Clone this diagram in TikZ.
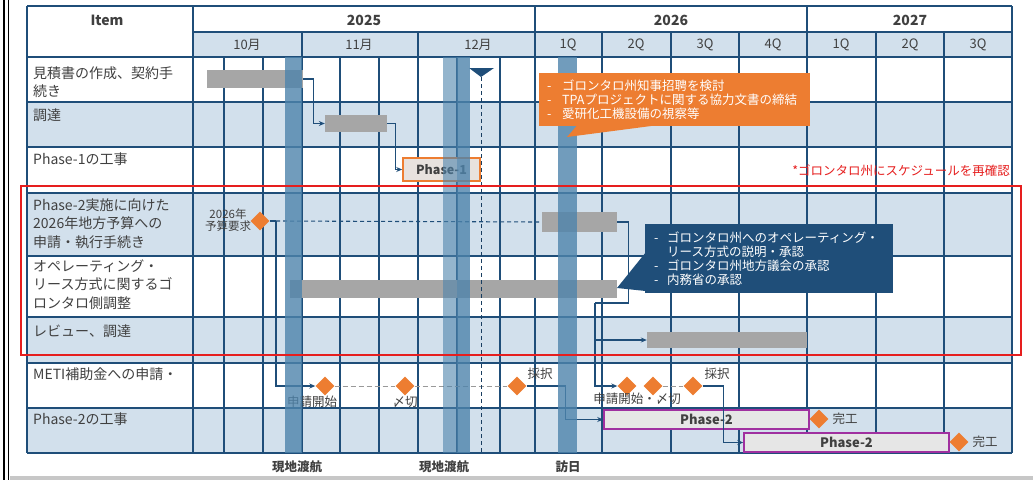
\documentclass[tikz,border=0pt]{standalone}
\usepackage{fontspec}
\setmainfont{Noto Sans CJK JP}
\usetikzlibrary{shapes.geometric,arrows.meta}
\definecolor{gridc}{RGB}{31,78,121}
\definecolor{shadec}{RGB}{210,224,236}
\definecolor{txt}{RGB}{64,64,64}
\definecolor{barg}{RGB}{166,166,166}
\definecolor{msor}{RGB}{237,125,49}
\definecolor{bandc}{RGB}{78,132,172}
\definecolor{purp}{RGB}{160,48,160}
\definecolor{phfill}{RGB}{230,230,230}
\definecolor{ph1fill}{RGB}{232,226,222}
\definecolor{redc}{RGB}{230,30,30}
\definecolor{darkc}{RGB}{31,78,121}
\begin{document}
\begin{tikzpicture}[x=1pt,y=-1pt,
  gridl/.style={draw=gridc, line width=1.3pt},
  lab/.style={anchor=north west, align=left, inner sep=0pt, text=txt, font=\fontsize{14}{18.5}\selectfont},
  hdr/.style={inner sep=0pt, text=txt, font=\fontsize{14}{16}\selectfont\bfseries},
  mon/.style={inner sep=0pt, text=txt, font=\fontsize{13}{15}\selectfont},
  gbar/.style={fill=barg, inner sep=0pt},
  ms/.style={diamond, fill=msor, inner sep=0pt, minimum width=19pt, minimum height=19pt},
  phbox/.style={fill=phfill, line width=1.6pt, inner sep=0pt, font=\fontsize{13}{15}\selectfont\bfseries, text=txt},
  conn/.style={draw=gridc, line width=1.1pt},
  arr/.style={-{Stealth[length=6pt,width=5pt]}},
  bandst/.style={fill=bandc, opacity=0.8},
  mlab/.style={inner sep=0pt, text=txt, font=\fontsize{12.5}{14}\selectfont},
  callo/.style={fill=msor, text=white, align=left, inner xsep=8pt, inner ysep=0pt, text width=255pt, minimum height=53pt, font=\fontsize{12.5}{14}\selectfont},
  calld/.style={fill=darkc, text=white, align=left, inner xsep=9pt, inner ysep=0pt, text width=230pt, minimum height=69pt, font=\fontsize{12.5}{14}\selectfont},
  botlab/.style={inner sep=0pt, text=txt, font=\fontsize{12.5}{14}\selectfont\bfseries}
]
\useasboundingbox (0,0) rectangle (1033,480);
\fill[white] (0,0) rectangle (1033,480);
% page frame
\draw[line width=1.8pt, black] (4,0) -- (4,480);
\draw[line width=1.4pt, black] (8.5,0) -- (8.5,480);
\fill[black!22] (10,476) rectangle (1033,480);

% shading
\fill[shadec] (193,32) rectangle (1012,57);
\foreach \a/\b in {102/147,193/256,317/363,408/453}
  \fill[shadec] (27,\a) rectangle (1012,\b);

% grid
\foreach \y in {6,57,102,147,193,256,317,363,408,453}
  \draw[gridl] (27,\y) -- (1012,\y);
\draw[gridl] (193,32) -- (1012,32);
\foreach \x in {27,193,535,807,1012}
  \draw[gridl] (\x,6) -- (\x,453);
\foreach \x in {302,418,602,671,739,876,944}
  \draw[gridl] (\x,32) -- (\x,453);
\foreach \x in {224,263,340,379,457,500}
  \draw[gridl] (\x,57) -- (\x,453);

% headers
\node[hdr] (hitem) at (107,20) {Item};
\node[hdr] (y25) at (364,20) {2025};
\node[hdr] (y26) at (671,20) {2026};
\node[hdr] (y27) at (910,20) {2027};
\node[mon] (m10) at (247,45) {10月};
\node[mon] (m11) at (359,45) {11月};
\node[mon] (m12) at (478,45) {12月};
\node[mon] (q1a) at (568,45) {1Q};
\node[mon] (q2a) at (636,45) {2Q};
\node[mon] (q3a) at (705,45) {3Q};
\node[mon] (q4a) at (773,45) {4Q};
\node[mon] (q1b) at (841,45) {1Q};
\node[mon] (q2b) at (910,45) {2Q};
\node[mon] (q3b) at (978,45) {3Q};

% row labels
\node[lab] (l1) at (33,66.5) {見積書の作成、契約手\\続き};
\node[lab] (l2) at (33,108.5) {調達};
\node[lab] (l3) at (33,152.5) {Phase-1の工事};
\node[lab] (l4) at (33,198.5) {Phase-2実施に向けた\\2026年地方予算への\\申請・執行手続き};
\node[lab] (l5) at (33,259.5) {オペレーティング・\\リース方式に関するゴ\\ロンタロ側調整};
\node[lab] (l6) at (33,324.5) {レビュー、調達};
\node[lab] (l7) at (33,367.5) {METI補助金への申請・};
\node[lab] (l8) at (33,412.5) {Phase-2の工事};

% bars
\node[gbar, minimum width=96pt, minimum height=18pt] (b1) at (255,79) {};
\node[gbar, minimum width=62pt, minimum height=17pt] (b2) at (356,123.5) {};
\node[phbox, draw=msor, minimum width=77pt, minimum height=23pt, fill=ph1fill, font=\fontsize{12.5}{14}\selectfont\bfseries] (ph1) at (441.5,169.5) {Phase-1};
\node[gbar, minimum width=75pt, minimum height=20pt] (b4) at (579.5,222) {};
\node[gbar, minimum width=327pt, minimum height=18pt] (b5) at (453.5,289) {};
\node[gbar, minimum width=160pt, minimum height=16pt] (b6) at (727,340) {};
\node[phbox, draw=purp, minimum width=205pt, minimum height=19pt] (p2a) at (706.5,419.5) {Phase-2};
\node[phbox, draw=purp, minimum width=205pt, minimum height=19pt] (p2b) at (846.5,442.5) {Phase-2};

% milestones
\node[ms] (d0) at (260,221) {};
\node[inner sep=0pt, text=txt, align=center, font=\fontsize{11.5}{11.5}\selectfont] (bl) at (228,220) {2026年\\予算要求};
\node[ms] (m1) at (325,386) {};
\node[ms] (m2) at (405,386) {};
\node[ms] (m3) at (517,386) {};
\node[ms] (m4) at (627,386) {};
\node[ms] (m5) at (653,386) {};
\node[ms] (m6) at (693,386) {};
\node[ms] (e1) at (819,419) {};
\node[ms] (e2) at (959,442) {};
\node[mlab] (t1) at (312,402) {申請開始};
\node[mlab] (t2) at (405,402) {〆切};
\node[mlab] (t3) at (540,374) {採択};
\node[mlab] (t4) at (637,399) {申請開始・〆切};
\node[mlab] (t5) at (717,374) {採択};
\node[mlab] (t6) at (845,419) {完工};
\node[mlab] (t7) at (985,442) {完工};

% METI dashed links
\draw[draw=black!40, line width=1pt, dash pattern=on 5pt off 3pt] (m1.east) -- (m2.west);
\draw[draw=black!40, line width=1pt, dash pattern=on 5pt off 3pt] (m2.east) -- (m3.west);
\draw[draw=black!40, line width=1pt, dash pattern=on 5pt off 3pt] (m5.east) -- (m6.west);

% connectors
\draw[conn, arr] (b1.east) -- ++(10,0) |- (b2.west);
\draw[conn, arr] (b2.east) -- ++(8,0) |- (ph1.west);
\coordinate (j0) at (276,221);
\draw[conn] (d0.east) -- (j0);
\draw[conn, dash pattern=on 4pt off 3pt] (j0) -- (b4.west);
\draw[conn, arr] (j0) |- (m1.west);
\coordinate (j1) at (595,303);
\draw[conn] (b4.east) -- ++(11,0) |- (j1);
\draw[conn, arr] (j1) |- (b6.west);
\draw[conn, arr] (j1) |- (m4.west);
\draw[conn, arr] (m3.east) -- ++(38.5,0) |- (p2a.west);
\draw[conn, arr] (m6.east) -- ++(20.5,0) |- (p2b.west);

% today marker
\fill[gridc] (469,68) -- (494,68) -- (481,77) -- cycle;
\coordinate (tri) at (481,77);
\coordinate (trend) at (481,453);
\draw[draw=gridc!80!black, line width=1pt, dash pattern=on 4pt off 3pt] (tri) -- (trend);

% travel bands
\fill[bandst] (285,57) rectangle (302,453);
\fill[bandc, opacity=0.6] (443,57) rectangle (457,453);
\fill[bandst] (457,57) rectangle (470,453);
\fill[bandst] (558,57) rectangle (577,453);
\node[botlab] (v1) at (297,467) {現地渡航};
\node[botlab] (v2) at (444,467) {現地渡航};
\node[botlab] (v3) at (568,467) {訪日};

% callouts
\node[callo, anchor=north west] (co) at (539,73) {\makebox[15pt][l]{-}ゴロンタロ州知事招聘を検討\\\makebox[15pt][l]{-}TPAプロジェクトに関する協力文書の締結\\\makebox[15pt][l]{-}愛研化工機設備の視察等};
\fill[msor] (577,125.5) -- (567,137) -- (655,125.5) -- cycle;
\node[calld, anchor=north west] (cd) at (645,224) {\makebox[13pt][l]{-}ゴロンタロ州へのオペレーティング・\\\hspace*{13pt}リース方式の説明・承認\\\makebox[13pt][l]{-}ゴロンタロ州地方議会の承認\\\makebox[13pt][l]{-}内務省の承認};
\fill[darkc] (646,252) -- (617,288) -- (660,292.5) -- (646,292.5) -- cycle;

% red frame and note
\draw[draw=redc, line width=1.5pt] (21,186) rectangle (1021,355);
\node[inner sep=0pt, anchor=east, text=redc, font=\fontsize{12.5}{14}\selectfont] (note) at (1010,171) {*ゴロンタロ州にスケジュールを再確認};
\end{tikzpicture}
\end{document}
